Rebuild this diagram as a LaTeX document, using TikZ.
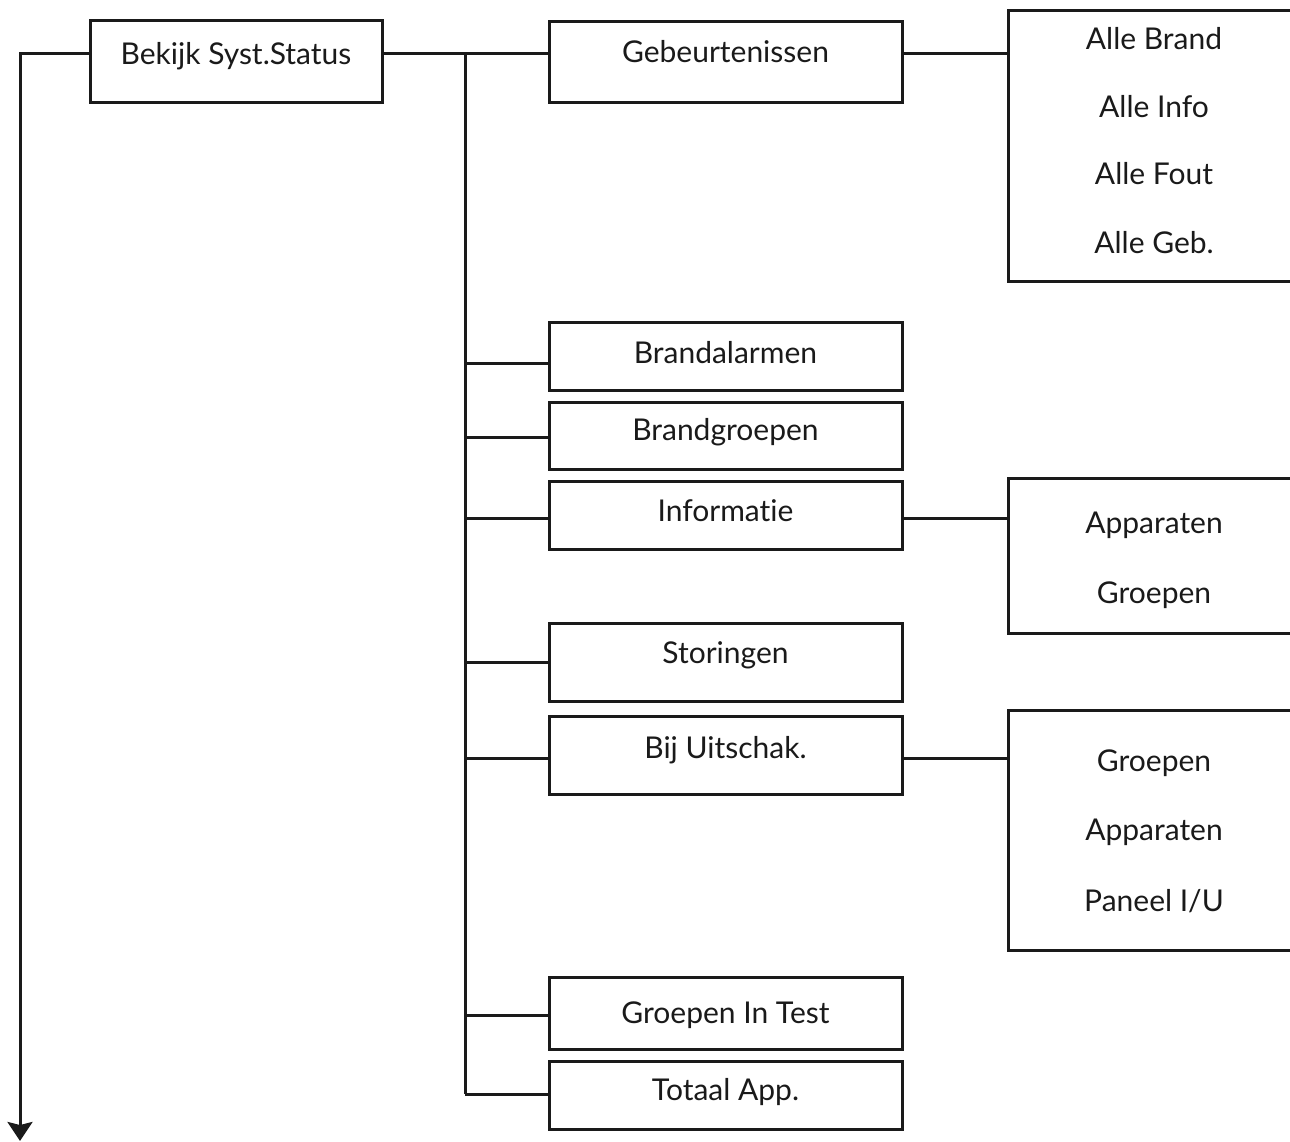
\documentclass[tikz,border=0pt]{standalone}
\usepackage{fontspec}
\setmainfont{Lato}[Ligatures=NoCommon]
\usetikzlibrary{positioning, arrows.meta}
\definecolor{MenuInk}{HTML}{1A1A1A}
\definecolor{MenuBG}{HTML}{FFFFFF}
\tikzset{
  menufont/.style  = {font=\fontsize{30}{35}\selectfont, text=MenuInk},
  menubox/.style 2 args = {draw=MenuInk, line width=3pt, inner sep=0pt, outer sep=0pt,
                      minimum width=353pt, text height=#1pt, text depth=#2pt,
                      anchor=base, menufont},
  subbox/.style    = {draw=MenuInk, line width=3pt, inner sep=0pt, outer sep=0pt,
                      minimum width=292pt, minimum height=#1pt},
  subitem/.style   = {anchor=base, inner sep=0pt, menufont},
  menuline/.style  = {draw=MenuInk, line width=3pt},
  menuarr/.style   = {menuline, -{Stealth[length=19pt, width=25pt, inset=3pt]}},
}
\begin{document}
\begin{tikzpicture}[x=1pt, y=-1pt]
    \clip (0,0) rectangle (1290,1142);
    \fill[MenuBG] (0,0) rectangle (1290,1142);
    % main menu column
    \node[menubox={44}{38}, minimum width=292pt] (status) at (236,65) {Bekijk Syst.Status};
    \node[menubox={41}{40}] (geb) at (725.5,63) {Gebeurtenissen};
    \node[menubox={41}{27}] (brandal) at (725.5,363) {Brandalarmen};
    \node[menubox={38}{29}] (brandgr) at (725.5,440) {Brandgroepen};
    \node[menubox={40}{28}] (info) at (725.5,521) {Informatie};
    \node[menubox={40}{38}] (storing) at (725.5,663) {Storingen};
    \node[menubox={42}{36}] (uitsch) at (725.5,758) {Bij Uitschak.};
    \node[menubox={46}{26}] (grtest) at (725.5,1023) {Groepen In Test};
    \node[menubox={39}{29}] (totaal) at (725.5,1100) {Totaal App.};
    % sub menus, cut off at the right edge
    \node[subbox=270] (gebsub) at (1154,146) {};
    \node[subitem] (allebrand) at (1154,50) {Alle Brand};
    \node[subitem] (alleinfo) at (1154,118) {Alle Info};
    \node[subitem] (allefout) at (1154,185) {Alle Fout};
    \node[subitem] (allegeb) at (1154,253) {Alle Geb.};
    \node[subbox=155] (infosub) at (1154,555.5) {};
    \node[subitem] (infoapp) at (1154,533) {Apparaten};
    \node[subitem] (infogr) at (1154,603) {Groepen};
    \node[subbox=240] (uitsub) at (1154,830) {};
    \node[subitem] (uitgr) at (1154,771) {Groepen};
    \node[subitem] (uitapp) at (1154,840) {Apparaten};
    \node[subitem] (uitpan) at (1154,911) {Paneel I/U};
    % junctions on the trunk
    \coordinate (jgeb) at (465,54);
    \coordinate (jbrandal) at (465,363);
    \coordinate (jbrandgr) at (465,437);
    \coordinate (jinfo) at (465,518);
    \coordinate (jstoring) at (465,662);
    \coordinate (juitsch) at (465,758);
    \coordinate (jgrtest) at (465,1015);
    \coordinate (jtotaal) at (465,1094);
    \coordinate (backcorner) at (20,54);
    \coordinate (backend) at (20,1141);
    \draw[menuline] (status.east |- jgeb) -- (geb.west |- jgeb);
    \draw[menuline] (jgeb) -- (jtotaal);
    \draw[menuline] (jbrandal) -- (jbrandal -| brandal.west); \draw[menuline] (jbrandgr) -- (jbrandgr -| brandgr.west);
    \draw[menuline] (jinfo) -- (jinfo -| info.west); \draw[menuline] (jstoring) -- (jstoring -| storing.west);
    \draw[menuline] (juitsch) -- (juitsch -| uitsch.west); \draw[menuline] (jgrtest) -- (jgrtest -| grtest.west);
    \draw[menuline] (jtotaal) -- (jtotaal -| totaal.west);
    \draw[menuline] (geb.east |- jgeb) -- (gebsub.west |- jgeb);
    \draw[menuline] (info.east |- jinfo) -- (infosub.west |- jinfo);
    \draw[menuline] (uitsch.east |- juitsch) -- (uitsub.west |- juitsch);
    \draw[menuarr] (status.west |- jgeb) -- (backcorner) -- (backend);
  \end{tikzpicture}
\end{document}
